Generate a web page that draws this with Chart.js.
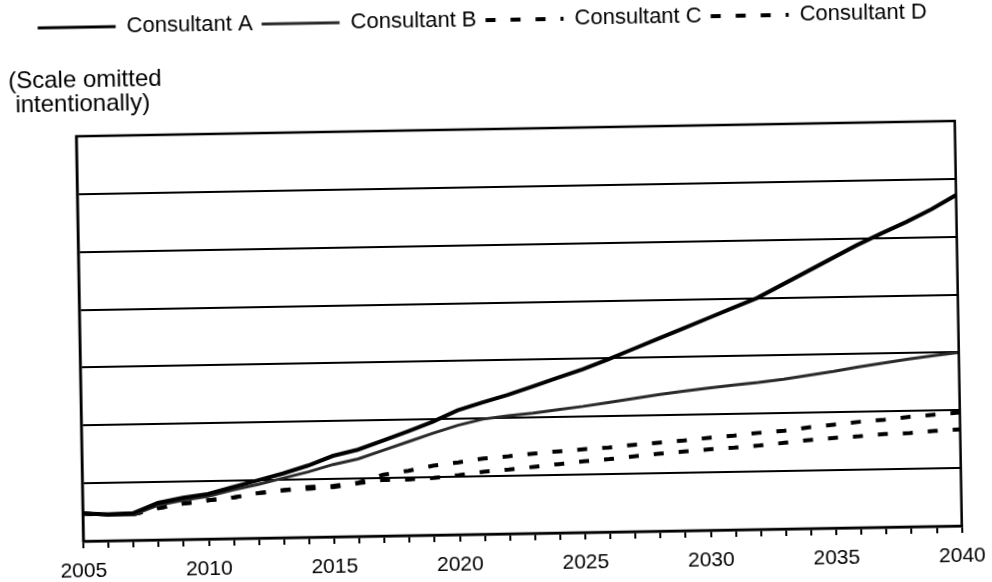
<!DOCTYPE html>
<html>
<head>
<meta charset="utf-8">
<script src="https://cdn.jsdelivr.net/npm/chart.js@4"></script>
<style>
  body { margin: 0; background: #fff; }
  /* the scanned original sits about one degree off square */
  #wrap { width: 992px; height: 582px; transform: rotate(-1deg); }
  canvas { display: block; }
</style>
</head>
<body>
<div id="wrap"><canvas id="c" width="992" height="582"></canvas></div>
<script>
// years along the x axis, one point per year
const years = [2005, 2006, 2007, 2008, 2009, 2010, 2011, 2012, 2013, 2014, 2015, 2016,
  2017, 2018, 2019, 2020, 2021, 2022, 2023, 2024, 2025, 2026, 2027, 2028,
  2029, 2030, 2031, 2032, 2033, 2034, 2035, 2036, 2037, 2038, 2039, 2040];
const labelYears = [2005, 2010, 2015, 2020, 2025, 2030, 2035, 2040];

// values in gridline units (the scale is left off on purpose)
const consultantA = [0.48, 0.46, 0.47, 0.64, 0.72, 0.78, 0.89, 1.00, 1.11, 1.24, 1.40, 1.50,
  1.65, 1.80, 1.96, 2.15, 2.28, 2.40, 2.54, 2.68, 2.82, 2.98, 3.15, 3.32,
  3.49, 3.66, 3.83, 4.00, 4.22, 4.44, 4.66, 4.88, 5.08, 5.27, 5.48, 5.72];
const consultantB = [0.48, 0.44, 0.44, 0.60, 0.68, 0.74, 0.84, 0.93, 1.03, 1.13, 1.25, 1.34,
  1.48, 1.62, 1.76, 1.89, 1.99, 2.04, 2.08, 2.13, 2.18, 2.24, 2.30, 2.36,
  2.41, 2.46, 2.50, 2.54, 2.59, 2.65, 2.71, 2.78, 2.84, 2.90, 2.95, 3.00];
const consultantC = [0.48, 0.45, 0.45, 0.55, 0.62, 0.67, 0.71, 0.78, 0.82, 0.87, 0.88, 0.93,
  1.06, 1.12, 1.20, 1.25, 1.31, 1.34, 1.38, 1.41, 1.44, 1.46, 1.50, 1.53,
  1.56, 1.60, 1.63, 1.67, 1.70, 1.75, 1.79, 1.83, 1.86, 1.90, 1.93, 1.96];
const consultantD = [0.48, 0.45, 0.45, 0.55, 0.62, 0.67, 0.71, 0.78, 0.82, 0.84, 0.86, 0.92,
  0.97, 0.97, 0.99, 1.03, 1.08, 1.11, 1.15, 1.19, 1.23, 1.26, 1.30, 1.34,
  1.37, 1.40, 1.42, 1.45, 1.49, 1.53, 1.56, 1.58, 1.61, 1.62, 1.65, 1.67];

const FONT = '"Liberation Sans", Arial, sans-serif';

function pts(vals) {
  return years.map((y, i) => ({ x: y, y: vals[i] }));
}

// box round the plot area (top and right edges have no axis of their own)
const framePlugin = {
  id: 'frame',
  afterDatasetsDraw(chart) {
    const { ctx, chartArea: a } = chart;
    ctx.save();
    ctx.strokeStyle = '#000';
    ctx.lineWidth = 2.5;
    ctx.strokeRect(a.left, a.top, a.right - a.left, a.bottom - a.top);
    ctx.restore();
  },
};

new Chart(document.getElementById('c'), {
  type: 'line',
  data: {
    datasets: [
      { label: 'Consultant A', data: pts(consultantA), borderColor: '#000', borderWidth: 4 },
      { label: 'Consultant B', data: pts(consultantB), borderColor: '#2a2a2a', borderWidth: 3 },
      { label: 'Consultant C', data: pts(consultantC), borderColor: '#000', borderWidth: 4, borderDash: [10, 15] },
      { label: 'Consultant D', data: pts(consultantD), borderColor: '#000', borderWidth: 4, borderDash: [10, 15] },
    ],
  },
  options: {
    responsive: false,
    animation: false,
    devicePixelRatio: 1,
    layout: { padding: { left: 12, right: 30, top: 0, bottom: 0 } },
    elements: {
      point: { radius: 0 },
      line: { tension: 0, fill: false },
    },
    plugins: {
      legend: {
        position: 'top',
        weight: 3000,
        labels: {
          color: '#000',
          font: { family: FONT, size: 22 },
          usePointStyle: true,
          pointStyle: 'line',
          pointStyleWidth: 78,
          padding: 9,
          // point-style legend items lose the dash, so put it back
          generateLabels: chart => Chart.defaults.plugins.legend.labels.generateLabels(chart)
            .map(item => Object.assign(item, {
              lineDash: chart.data.datasets[item.datasetIndex].borderDash || [],
              lineWidth: item.datasetIndex < 2 ? 3 : 4,
            })),
        },
      },
      title: {
        display: true,
        align: 'start',
        text: ['(Scale omitted', ' intentionally)'],
        color: '#000',
        font: { family: FONT, size: 24, weight: 'normal', lineHeight: 1.0 },
        padding: { top: 20, bottom: 20 },
      },
      tooltip: { enabled: false },
    },
    scales: {
      x: {
        type: 'linear',
        min: 2005,
        max: 2040,
        afterFit: s => { s.height = 48; },
        ticks: {
          stepSize: 1,
          autoSkip: false,
          maxRotation: 0,
          padding: 11,
          color: '#000',
          font: { family: FONT, size: 21 },
          callback: v => labelYears.includes(Math.round(v)) ? String(Math.round(v)) : '',
        },
        grid: { drawOnChartArea: false, color: '#000', lineWidth: 2, tickLength: 7 },
        border: { color: '#000', width: 2.5 },
      },
      y: {
        min: 0,
        max: 7,
        afterFit: s => { s.width = 67; },
        ticks: { stepSize: 1, display: false },
        grid: { color: '#000', lineWidth: 2, drawTicks: false },
        border: { color: '#000', width: 2.5 },
      },
    },
  },
  plugins: [framePlugin],
});
</script>
</body>
</html>
